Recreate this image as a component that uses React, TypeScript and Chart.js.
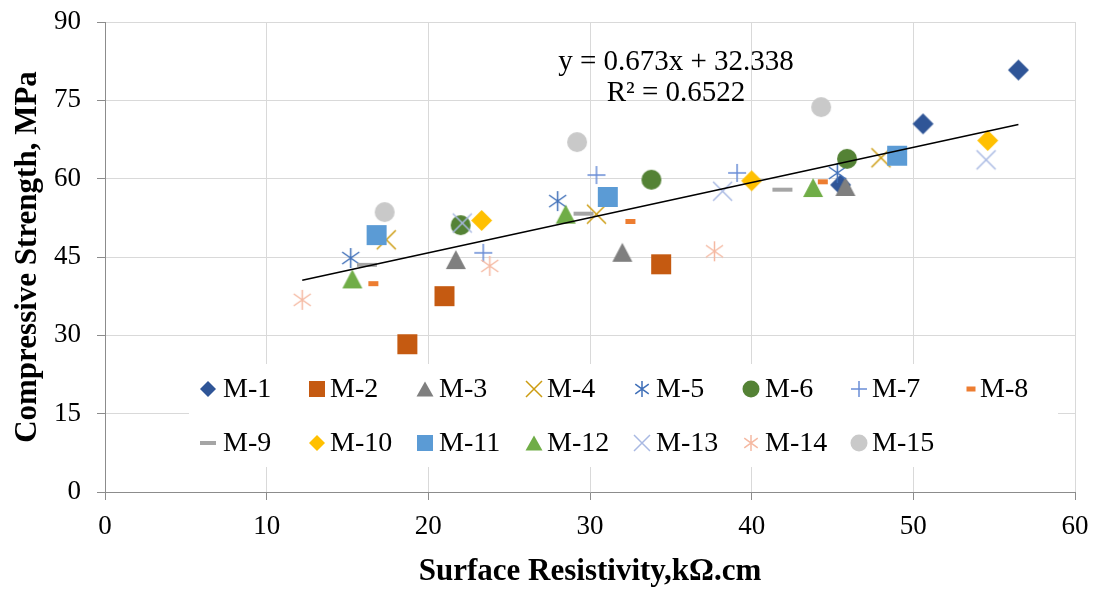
import React, { useEffect, useRef } from 'react';
import { Chart, registerables } from 'chart.js';

Chart.register(...registerables);

const SERIF = "'Liberation Serif', 'Times New Roman', Times, serif";

// ---------- data ----------
const seriesNames = ['M-1', 'M-2', 'M-3', 'M-4', 'M-5', 'M-6', 'M-7', 'M-8', 'M-9', 'M-10', 'M-11', 'M-12', 'M-13', 'M-14', 'M-15'];

const m1 = [[45.5, 58.8], [50.6, 70.5], [56.5, 80.8]];
const m2 = [[18.7, 28.3], [21.0, 37.5], [34.4, 43.6]];
const m3 = [[21.7, 44.5], [32.0, 45.9], [45.8, 58.5]];
const m4 = [[17.4, 48.3], [30.4, 53.2], [48.0, 64.0]];
const m5 = [[15.2, 44.8], [28.0, 55.7], [45.3, 61.1]];
const m6 = [[22.0, 51.1], [33.8, 59.8], [45.9, 63.8]];
const m7 = [[23.4, 45.8], [30.4, 60.7], [39.1, 61.1]];
const m8 = [[16.6, 39.9], [32.5, 51.8], [44.4, 59.4]];
const m9 = [[16.2, 43.5], [29.6, 53.3], [41.9, 57.9]];
const m10 = [[23.3, 52.0], [40.0, 59.6], [54.6, 67.3]];
const m11 = [[16.8, 49.2], [31.1, 56.5], [49.0, 64.4]];
const m12 = [[15.3, 40.8], [28.5, 53.2], [43.8, 58.3]];
const m13 = [[22.1, 51.5], [38.2, 57.6], [54.5, 63.6]];
const m14 = [[12.2, 36.8], [23.8, 43.3], [37.7, 46.1]];
const m15 = [[17.3, 53.6], [29.2, 67.0], [44.3, 73.7]];
const seriesPoints = [m1, m2, m3, m4, m5, m6, m7, m8, m9, m10, m11, m12, m13, m14, m15];

const xTicks = [0, 10, 20, 30, 40, 50, 60];
const yTicks = [0, 15, 30, 45, 60, 75, 90];

const trendSlope = 0.673;
const trendIntercept = 32.338;
const trendXRange = [12.2, 56.5];
const equationLines = ['y = 0.673x + 32.338', 'R² = 0.6522'];

// ---------- styles ----------
const seriesColors = ['#2F5597', '#C55A11', '#7F7F7F', '#CC9C10', '#3F6FB8', '#548235', '#6A8DD6', '#ED7D31', '#A5A5A5', '#FFC000', '#5B9BD5', '#70AD47', '#A9B9E3', '#F5B9A2', '#C9C9C9'];
const seriesMarkers = ['diamond', 'square', 'triangle', 'x', 'asterisk', 'circle', 'plus', 'dash', 'bar', 'diamond', 'square', 'triangle', 'x', 'asterisk', 'circle'];
// [width, height] in plot, and in legend
const plotSizes: Record<string, number[]> = {
  diamond: [21, 21], square: [20, 20], triangle: [20, 19], x: [19, 19], asterisk: [19, 20],
  circle: [20, 20], plus: [18, 18], dash: [10, 5], bar: [20, 4],
};
const legendSizes: Record<string, number[]> = {
  diamond: [16, 16], square: [16, 16], triangle: [17, 15], x: [16, 16], asterisk: [15, 16],
  circle: [17, 17], plus: [16, 16], dash: [9, 5], bar: [16, 4],
};
const legendMarkerX = [208, 317, 425, 534, 642, 751, 859, 971];
const legendTextX = [223, 330, 439, 547, 656, 765, 872, 980];
const legendRowY = [389, 443];

function drawMarker(ctx: CanvasRenderingContext2D, kind: string, cx: number, cy: number, w: number, h: number, color: string) {
  ctx.save();
  ctx.fillStyle = color;
  ctx.strokeStyle = color;
  ctx.lineWidth = 1.5;
  ctx.lineCap = 'butt';
  const hw = w / 2, hh = h / 2;
  ctx.beginPath();
  switch (kind) {
    case 'diamond':
      ctx.moveTo(cx, cy - hh); ctx.lineTo(cx + hw, cy); ctx.lineTo(cx, cy + hh); ctx.lineTo(cx - hw, cy); ctx.closePath(); ctx.fill();
      break;
    case 'square':
    case 'dash':
    case 'bar':
      ctx.fillRect(cx - hw, cy - hh, w, h);
      break;
    case 'triangle':
      ctx.moveTo(cx, cy - hh); ctx.lineTo(cx + hw, cy + hh); ctx.lineTo(cx - hw, cy + hh); ctx.closePath(); ctx.fill();
      break;
    case 'circle':
      ctx.arc(cx, cy, hw, 0, Math.PI * 2); ctx.fill();
      break;
    case 'x':
      ctx.moveTo(cx - hw, cy - hh); ctx.lineTo(cx + hw, cy + hh);
      ctx.moveTo(cx + hw, cy - hh); ctx.lineTo(cx - hw, cy + hh); ctx.stroke();
      break;
    case 'plus':
      ctx.moveTo(cx - hw, cy); ctx.lineTo(cx + hw, cy);
      ctx.moveTo(cx, cy - hh); ctx.lineTo(cx, cy + hh); ctx.stroke();
      break;
    case 'asterisk': {
      const dx = hw * 0.9, dy = hh * 0.6;
      ctx.moveTo(cx, cy - hh); ctx.lineTo(cx, cy + hh);
      ctx.moveTo(cx - dx, cy - dy); ctx.lineTo(cx + dx, cy + dy);
      ctx.moveTo(cx + dx, cy - dy); ctx.lineTo(cx - dx, cy + dy); ctx.stroke();
      break;
    }
  }
  ctx.restore();
}

function makeMarkerCanvas(kind: string, w: number, h: number, color: string): HTMLCanvasElement {
  const c = document.createElement('canvas');
  c.width = Math.ceil(w) + 4;
  c.height = Math.ceil(h) + 4;
  const ctx = c.getContext('2d')!;
  drawMarker(ctx, kind, c.width / 2, c.height / 2, w, h, color);
  return c;
}

const overlayPlugin = {
  id: 'overlay',
  afterDraw(chart: any) {
    const ctx: CanvasRenderingContext2D = chart.ctx;
    ctx.save();
    // equation
    ctx.fillStyle = '#000';
    ctx.font = `29px ${SERIF}`;
    ctx.textAlign = 'center';
    ctx.textBaseline = 'middle';
    ctx.fillText(equationLines[0], 676, 62);
    ctx.fillText(equationLines[1], 676, 93);
    // legend
    ctx.fillStyle = '#FFFFFF';
    ctx.fillRect(189, 364, 869, 103);
    ctx.font = `28px ${SERIF}`;
    ctx.textAlign = 'left';
    seriesNames.forEach((name, i) => {
      const row = i < 8 ? 0 : 1;
      const col = i < 8 ? i : i - 8;
      const kind = seriesMarkers[i];
      const [w, h] = legendSizes[kind];
      drawMarker(ctx, kind, legendMarkerX[col], legendRowY[row], w, h, seriesColors[i]);
      ctx.fillStyle = '#000';
      ctx.fillText(name, legendTextX[col], legendRowY[row] + 1);
    });
    ctx.restore();
  },
};

export default function App() {
  const ref = useRef<HTMLCanvasElement | null>(null);
  useEffect(() => {
    document.body.style.margin = '0';
    document.body.style.background = '#fff';
    const canvas = ref.current!;
    const datasets: any[] = seriesPoints.map((pts, i) => {
      const kind = seriesMarkers[i];
      const [w, h] = plotSizes[kind];
      return {
        label: seriesNames[i],
        data: pts.map(([x, y]) => ({ x, y })),
        pointStyle: makeMarkerCanvas(kind, w, h, seriesColors[i]),
        pointRadius: 10,
        showLine: false,
        order: -i,
      };
    });
    datasets.push({
      label: 'Trend',
      data: trendXRange.map((x) => ({ x, y: trendSlope * x + trendIntercept })),
      showLine: true,
      borderColor: '#000',
      borderWidth: 1.6,
      pointRadius: 0,
      order: -100,
    });
    const axisColor = '#8C8C8C';
    const gridColor = '#D9D9D9';
    const chart = new Chart(canvas, {
      type: 'scatter',
      data: { datasets },
      options: {
        responsive: false,
        animation: false,
        events: [],
        layout: { padding: { top: 22, right: 25, left: 0, bottom: 0 } },
        plugins: { legend: { display: false }, tooltip: { enabled: false } },
        scales: {
          x: {
            type: 'linear', min: 0, max: 60,
            afterBuildTicks: (s: any) => { s.ticks = xTicks.map((v) => ({ value: v })); },
            afterFit: (s: any) => { s.height = 101; s.paddingLeft = 0; s.paddingRight = 0; },
            grid: { color: gridColor, tickColor: axisColor, tickLength: 8, lineWidth: 1 },
            border: { color: axisColor, width: 1 },
            ticks: { font: { family: SERIF, size: 27 }, color: '#000', padding: 11, maxRotation: 0 },
            title: { display: true, text: 'Surface Resistivity,kΩ.cm', color: '#000', font: { family: SERIF, size: 31, weight: 'bold' }, padding: { top: 2, bottom: 2 } },
          },
          y: {
            type: 'linear', min: 0, max: 90,
            afterBuildTicks: (s: any) => { s.ticks = yTicks.map((v) => ({ value: v })); },
            afterFit: (s: any) => { s.width = 105; s.paddingTop = 0; s.paddingBottom = 0; },
            grid: { color: gridColor, tickColor: axisColor, tickLength: 8, lineWidth: 1 },
            border: { color: axisColor, width: 1 },
            ticks: { font: { family: SERIF, size: 27 }, color: '#000', padding: 16 },
            title: { display: true, text: 'Compressive Strength, MPa', color: '#000', font: { family: SERIF, size: 31, weight: 'bold' }, padding: { top: 9, bottom: 0 } },
          },
        },
      } as any,
      plugins: [overlayPlugin],
    });
    return () => chart.destroy();
  }, []);
  return <canvas ref={ref} width={1100} height={593} style={{ display: 'block' }} />;
}
